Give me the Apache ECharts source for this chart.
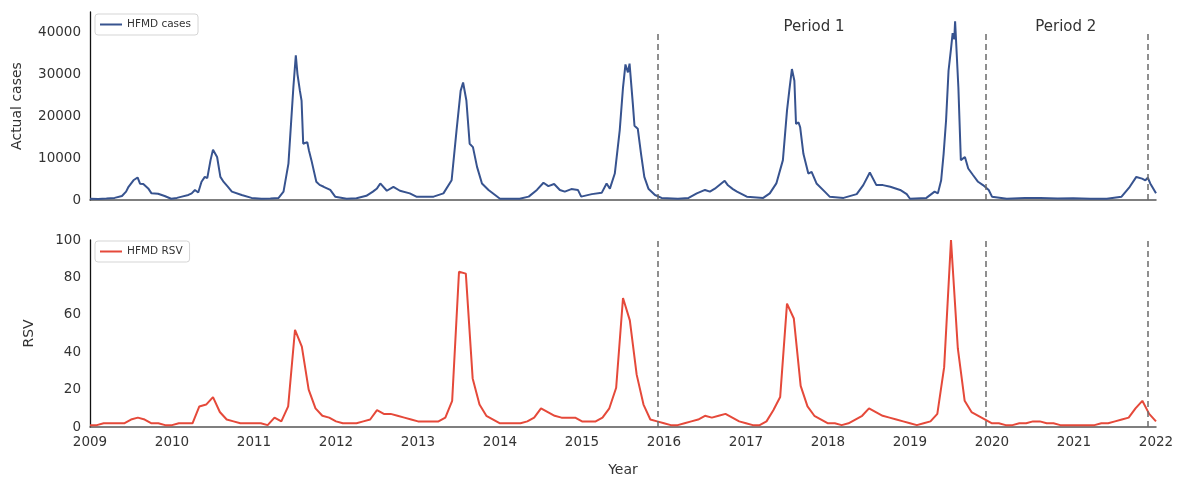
<!DOCTYPE html>
<html>
<head>
<meta charset="utf-8">
<script src="https://cdn.jsdelivr.net/npm/echarts@6/dist/echarts.min.js"></script>
<style>
html,body{margin:0;padding:0;background:#fff;}
#chart{width:1178px;height:478px;}
</style>
</head>
<body>
<div id="chart"></div>
<script>
// HFMD weekly-ish actual cases: decimal year and case counts
var caseYears = [
2009.00,2009.10,2009.20,2009.30,2009.39,2009.44,2009.47,2009.53,2009.58,2009.61,2009.65,2009.71,2009.75,2009.77,2009.83,2009.91,2009.99,
2010.06,2010.12,2010.20,2010.24,2010.28,2010.32,2010.36,2010.40,2010.43,2010.47,2010.50,2010.55,2010.59,2010.63,2010.68,2010.73,2010.85,2010.97,
2011.09,2011.20,2011.30,2011.36,2011.42,2011.48,2011.51,2011.53,2011.56,2011.58,2011.60,2011.65,2011.67,2011.70,2011.76,2011.80,2011.85,2011.93,2011.99,
2012.13,2012.25,2012.37,2012.45,2012.50,2012.54,2012.56,2012.62,2012.70,2012.78,2012.90,2012.98,
2013.19,2013.31,2013.41,2013.47,2013.52,2013.55,2013.59,2013.63,2013.67,2013.72,2013.78,2013.86,2013.94,
2014.00,2014.24,2014.35,2014.45,2014.53,2014.59,2014.66,2014.73,2014.79,2014.87,2014.95,2014.99,
2015.12,2015.24,2015.30,2015.34,2015.40,2015.46,2015.50,2015.53,2015.56,2015.58,2015.62,2015.64,2015.68,2015.72,2015.76,2015.81,2015.89,2015.97,
2016.17,2016.30,2016.40,2016.50,2016.56,2016.62,2016.74,2016.78,2016.84,2016.89,
2017.01,2017.21,2017.29,2017.37,2017.45,2017.50,2017.53,2017.56,2017.59,2017.61,2017.64,2017.66,2017.70,2017.76,2017.80,2017.86,2017.96,
2018.02,2018.19,2018.35,2018.43,2018.51,2018.59,2018.67,2018.76,2018.88,2018.96,
2019.00,2019.20,2019.30,2019.34,2019.38,2019.41,2019.44,2019.47,2019.50,2019.52,2019.54,2019.55,2019.59,2019.62,2019.67,2019.71,2019.77,2019.83,2019.89,2019.96,
2020.00,2020.18,2020.40,2020.59,2020.80,2020.99,
2021.20,2021.40,2021.58,2021.68,2021.76,2021.83,2021.87,2021.90,2021.93,2022.00
];
var caseValues = [
300,250,350,500,950,2000,3150,4700,5370,3900,3800,2760,1580,2000,1500,950,300,
500,800,1200,1580,2370,1800,4340,5500,5200,9500,12000,10250,5500,4300,3200,2000,1200,500,
300,350,500,2000,8680,26800,34500,30000,26000,23700,13400,13800,11800,9500,4340,3600,3150,2400,800,
300,400,1000,2000,2760,3950,3700,2200,3150,2200,1580,800,
800,1580,4700,16600,26000,28000,23700,13400,12600,7900,3950,2400,1200,
300,300,800,2400,4100,3300,3800,2400,2000,2600,2400,800,
1400,1700,3950,2700,6300,16600,26800,32300,30400,32500,22900,17700,17000,11000,5500,2700,1200,500,
300,500,1580,2400,2000,2700,4570,3500,2600,2000,
800,500,1580,3950,9500,21300,26400,31200,28400,18100,18500,17400,11000,6300,6700,3950,2000,
800,500,1400,3550,6550,3550,3550,3150,2400,1400,
300,500,2000,1580,4700,11000,19000,30800,36000,39800,38300,42600,26800,9500,10250,7500,5900,4340,3550,2370,
800,300,450,500,350,400,
300,300,800,3150,5500,5100,4700,5300,3950,1580
];
// HFMD monthly relative search volume, Jan 2009 .. Jan 2022
var rsvStartYear = 2009;
var rsvValues = [
1,1,2,2,2,2,4,5,4,2,2,1,
1,2,2,2,11,12,16,8,4,3,2,2,
2,2,1,5,3,11,52,43,20,10,6,5,
3,2,2,2,3,4,9,7,7,6,5,4,
3,3,3,3,5,14,83,82,26,12,6,4,
2,2,2,2,3,5,10,8,6,5,5,5,
3,3,3,5,10,21,69,57,28,12,4,3,
2,1,1,2,3,4,6,5,6,7,5,3,
2,1,1,3,9,16,66,58,22,11,6,4,
2,2,1,2,4,6,10,8,6,5,4,3,
2,1,2,3,7,32,100,42,14,8,6,4,
2,2,1,1,2,2,3,3,2,2,1,1,
1,1,1,1,2,2,3,4,5,10,14,7,
3
];
var periodBounds = [2015.92, 2019.92, 2021.9];
var periodLabels = ['Period 1', 'Period 2'];
var periodLabelYears = [2017.83, 2020.90];
var yearTicks = [2009,2010,2011,2012,2013,2014,2015,2016,2017,2018,2019,2020,2021,2022];

var caseData = caseYears.map(function (t, i) { return [t, caseValues[i]]; });
var rsvData = rsvValues.map(function (v, i) { return [rsvStartYear + i / 12, v]; });

var FONT = 'DejaVu Sans';
var TXT = '#333';
var dash = {color: '#6b6b6b', width: 1.5, type: [6, 4]};

var chart = echarts.init(document.getElementById('chart'), null, {renderer: 'canvas'});
chart.setOption({
  animation: false,
  backgroundColor: '#fff',
  textStyle: {fontFamily: FONT, color: TXT},
  legend: [
    {data: ['HFMD cases'], left: 95, top: 14, orient: 'vertical', icon: 'rect', itemWidth: 22, itemHeight: 2,
     padding: [5, 7, 5, 5], borderColor: '#d5d5d5', borderWidth: 1, borderRadius: 3,
     textStyle: {fontFamily: FONT, fontSize: 10.5, color: TXT}},
    {data: ['HFMD RSV'], left: 95, top: 241, orient: 'vertical', icon: 'rect', itemWidth: 22, itemHeight: 2,
     padding: [5, 7, 5, 5], borderColor: '#d5d5d5', borderWidth: 1, borderRadius: 3,
     textStyle: {fontFamily: FONT, fontSize: 10.5, color: TXT}}
  ],
  grid: [
    {left: 90, right: 22, top: 12, height: 188},
    {left: 90, right: 22, top: 240, height: 187}
  ],
  xAxis: [
    {type: 'value', gridIndex: 0, min: 2009, max: 2022, interval: 1,
     axisLine: {show: true, lineStyle: {color: '#555', width: 1.5}},
     axisTick: {show: false}, axisLabel: {show: false}, splitLine: {show: false}},
    {type: 'value', gridIndex: 1, min: 2009, max: 2022, interval: 1,
     name: 'Year', nameLocation: 'middle', nameGap: 36,
     nameTextStyle: {fontFamily: FONT, fontSize: 14, color: TXT},
     axisLine: {show: true, lineStyle: {color: '#555', width: 1.5}},
     axisTick: {show: false},
     axisLabel: {fontFamily: FONT, fontSize: 13.5, color: TXT, margin: 8,
       formatter: function (v) { return yearTicks.indexOf(Math.round(v)) >= 0 ? String(Math.round(v)) : ''; }},
     splitLine: {show: false}}
  ],
  yAxis: [
    {type: 'value', gridIndex: 0, min: 0, max: 44800, interval: 10000,
     name: 'Actual cases', nameLocation: 'middle', nameGap: 66, nameRotate: 90,
     nameTextStyle: {fontFamily: FONT, fontSize: 14, color: TXT},
     axisLine: {show: true, lineStyle: {color: '#111', width: 1.3}},
     axisTick: {show: false},
     axisLabel: {fontFamily: FONT, fontSize: 13.5, color: TXT, margin: 9,
       formatter: function (v) { return v % 10000 === 0 ? String(v) : ''; }},
     splitLine: {show: false}},
    {type: 'value', gridIndex: 1, min: 0, max: 100, interval: 20,
     name: 'RSV', nameLocation: 'middle', nameGap: 54, nameRotate: 90,
     nameTextStyle: {fontFamily: FONT, fontSize: 14, color: TXT},
     axisLine: {show: true, lineStyle: {color: '#111', width: 1.3}},
     axisTick: {show: false},
     axisLabel: {fontFamily: FONT, fontSize: 13.5, color: TXT, margin: 9},
     splitLine: {show: false}}
  ],
  series: [
    {name: 'HFMD cases', type: 'line', xAxisIndex: 0, yAxisIndex: 0, data: caseData,
     showSymbol: false, symbol: 'none', color: '#37538f',
     lineStyle: {color: '#37538f', width: 2},
     markLine: {silent: true, symbol: 'none', label: {show: false}, lineStyle: dash,
       data: periodBounds.map(function (t) { return [{coord: [t, 0]}, {coord: [t, 40300]}]; })},
     markPoint: {silent: true, symbol: 'circle', symbolSize: 0,
       label: {show: true, position: 'inside', fontFamily: FONT, fontSize: 15, color: TXT,
         formatter: function (p) { return p.name; }},
       data: periodLabels.map(function (n, i) { return {name: n, coord: [periodLabelYears[i], 41300]}; })}
    },
    {name: 'HFMD RSV', type: 'line', xAxisIndex: 1, yAxisIndex: 1, data: rsvData,
     showSymbol: false, symbol: 'none', color: '#e5493a',
     lineStyle: {color: '#e5493a', width: 2},
     markLine: {silent: true, symbol: 'none', label: {show: false}, lineStyle: dash,
       data: periodBounds.map(function (t) { return {xAxis: t}; })}
    }
  ]
});
</script>
</body>
</html>
